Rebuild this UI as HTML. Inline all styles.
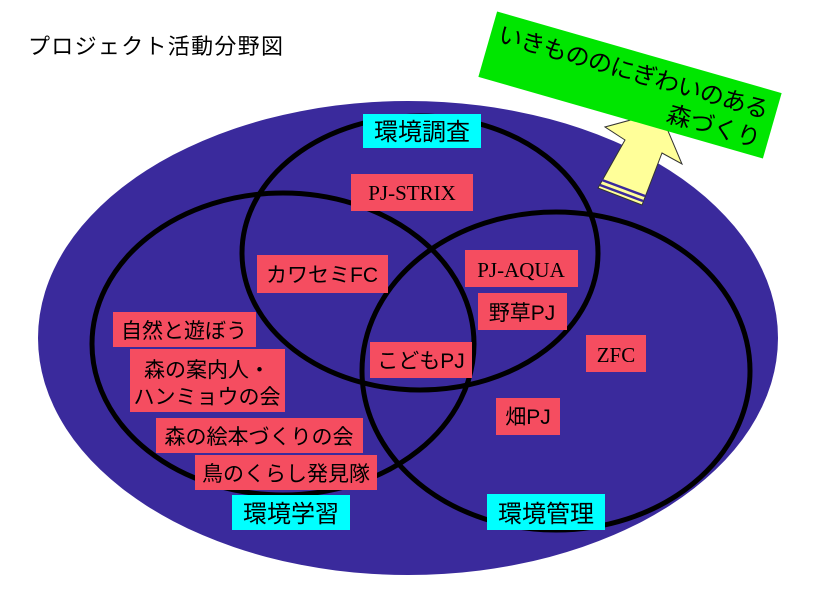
<!DOCTYPE html>
<html><head><meta charset="utf-8"><style>
body{margin:0;background:#fff;}
svg text{font-family:"Liberation Sans","Noto Sans CJK JP",sans-serif;}
</style></head><body>
<svg width="813" height="600" viewBox="0 0 813 600" xmlns="http://www.w3.org/2000/svg">
<rect width="813" height="600" fill="#fff"/>
<text x="28" y="54" font-size="22" fill="#000" textLength="255">プロジェクト活動分野図</text>
<ellipse cx="408" cy="338" rx="370" ry="237" fill="#3a2a9c"/>
<g fill="none" stroke="#000" stroke-width="5">
<ellipse cx="420" cy="253" rx="178" ry="137"/>
<ellipse cx="283" cy="344" rx="191" ry="151"/>
<ellipse cx="556" cy="371" rx="194" ry="159"/>
</g>
<g fill="#f54d60">
<rect x="351" y="174" width="122" height="37"/>
<rect x="257" y="255" width="131" height="38"/>
<rect x="465" y="250" width="113" height="37"/>
<rect x="478" y="293" width="89" height="37"/>
<rect x="113" y="312" width="143" height="35"/>
<rect x="130" y="349" width="155" height="63"/>
<rect x="370" y="342" width="102" height="36"/>
<rect x="586" y="335" width="60" height="37"/>
<rect x="496" y="398" width="64" height="37"/>
<rect x="156" y="418" width="207" height="35"/>
<rect x="195" y="455" width="182" height="35"/>
</g>
<g fill="#00ffff">
<rect x="363" y="114" width="118" height="34"/>
<rect x="232" y="495" width="118" height="35"/>
<rect x="487" y="494" width="118" height="36"/>
</g>
<g font-size="21" fill="#000" text-anchor="middle">
<text x="412" y="200" style="font-family:'Liberation Serif','Noto Serif CJK SC',serif">PJ-STRIX</text>
<text x="322" y="282">カワセミFC</text>
<text x="521" y="277" style="font-family:'Liberation Serif','Noto Serif CJK SC',serif">PJ-AQUA</text>
<text x="522" y="320">野草PJ</text>
<text x="184" y="338">自然と遊ぼう</text>
<text x="207" y="377">森の案内人・</text>
<text x="207" y="404">ハンミョウの会</text>
<text x="421" y="368">こどもPJ</text>
<text x="616" y="362" style="font-family:'Liberation Serif','Noto Serif CJK SC',serif">ZFC</text>
<text x="528" y="424">畑PJ</text>
<text x="259" y="444">森の絵本づくりの会</text>
<text x="286" y="481">鳥のくらし発見隊</text>
</g>
<g font-size="24" fill="#000" text-anchor="middle">
<text x="422" y="140">環境調査</text>
<text x="291" y="522">環境学習</text>
<text x="546" y="522">環境管理</text>
</g>
<polygon points="660,112 682,164 662,153 642,205 598,188 625,140 605,127" fill="#ffff99" stroke="#333" stroke-width="1"/>
<g stroke="#3a2a9c" stroke-width="2.5">
<line x1="602" y1="180" x2="645" y2="196"/>
<line x1="600" y1="185" x2="643" y2="201"/>
</g>
<g transform="translate(630,85) rotate(16)">
<rect x="-148" y="-34" width="296" height="68" fill="#00e600"/>
<text x="-140" y="-5" font-size="24" fill="#000" textLength="280">いきもののにぎわいのある</text>
<text x="140" y="25" font-size="24" fill="#000" text-anchor="end">森づくり</text>
</g>
</svg>
</body></html>
